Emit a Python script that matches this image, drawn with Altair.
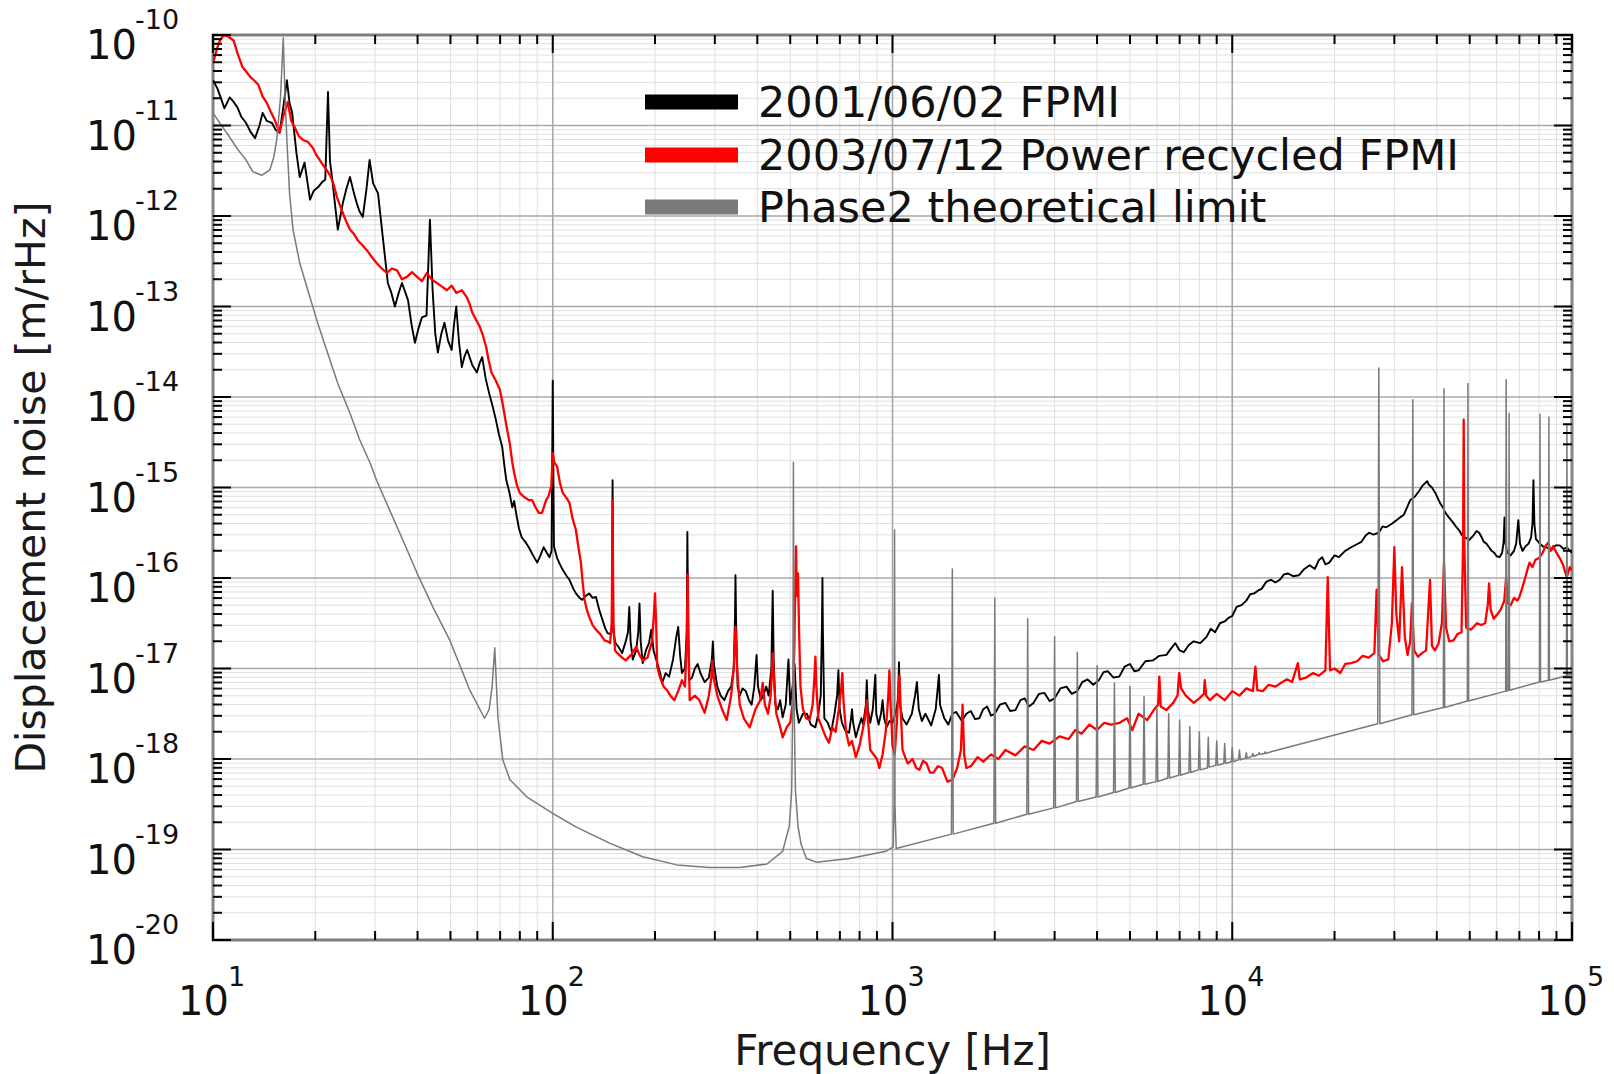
import altair as alt
import numpy as np
import pandas as pd

FONT = "DejaVu Sans"
W, H = 1359, 905

# (frequency [Hz], log10 displacement noise [m/rHz])
black_points = [
    (10, -10.50), (10.3, -10.59), (10.6, -10.72), (10.8, -10.81), (11.2, -10.69), (11.5, -10.74),
    (11.8, -10.80), (12.1, -10.90), (12.5, -10.97), (12.9, -11.07), (13.3, -11.14), (13.7, -11.00),
    (14.0, -10.86), (14.4, -10.95), (14.9, -10.97), (15.3, -11.05), (15.7, -11.08), (16.1, -10.80),
    (16.5, -10.50), (16.8, -10.75), (17.1, -10.86), (17.6, -11.30), (18.0, -11.57), (18.6, -11.41),
    (19.3, -11.82), (19.8, -11.72), (20.4, -11.68), (21.0, -11.62), (21.4, -11.60), (21.8, -10.63),
    (22.1, -11.40), (22.4, -11.57), (23.3, -12.15), (24.1, -11.86), (24.7, -11.70), (25.3, -11.57),
    (26.0, -11.75), (26.5, -11.86), (27.0, -11.95), (27.6, -12.01), (28.3, -11.70), (28.9, -11.38),
    (29.6, -11.64), (30.6, -11.75), (31.6, -12.23), (32.7, -12.74), (33.5, -12.85), (34.3, -13.00),
    (35.2, -12.85), (36.0, -12.74), (37.5, -12.93), (38.4, -13.20), (39.3, -13.40), (40.2, -13.25),
    (41.2, -13.12), (42.5, -13.10), (43.5, -12.04), (44.3, -12.82), (45.1, -13.30), (45.9, -13.51),
    (47.0, -13.30), (48.0, -13.18), (49.2, -13.38), (50.4, -13.48), (51.2, -13.20), (52.0, -13.00),
    (53.0, -13.40), (54.0, -13.67), (55.0, -13.55), (56.0, -13.48), (58.0, -13.65), (59.8, -13.73),
    (61.0, -13.62), (62.0, -13.56), (63.5, -13.80), (65.0, -13.96), (66.5, -14.10), (68.0, -14.25),
    (69.5, -14.42), (71.0, -14.55), (72.0, -14.75), (73.0, -14.92), (74.5, -15.05), (76.0, -15.22),
    (77.0, -15.15), (78.0, -15.28), (79.5, -15.45), (81.0, -15.55), (83.0, -15.60), (85.0, -15.66),
    (87.5, -15.75), (90.0, -15.83), (92.0, -15.75), (94.0, -15.66), (96.0, -15.72), (97.8, -15.77),
    (99.2, -15.70), (100.0, -13.82), (100.8, -15.65), (103, -15.78), (105, -15.85), (107, -15.91),
    (110, -15.98), (112, -16.02), (115, -16.12), (117, -16.17), (120, -16.22), (122, -16.24),
    (125, -16.20), (128, -16.17), (131, -16.22), (134, -16.21), (137, -16.35), (140, -16.46),
    (142.5, -16.55), (145, -16.61), (148, -16.62), (149.2, -16.55), (150.0, -14.92), (150.8, -16.60),
    (153, -16.72), (156, -16.76), (160, -16.83), (164, -16.70), (166.5, -16.60), (168, -16.32),
    (169.5, -16.70), (172, -16.90), (176, -16.80), (178.5, -16.60), (180, -16.28), (181.5, -16.70),
    (184, -16.94), (188, -16.80), (192, -16.72), (195, -16.57), (198, -16.80), (203, -16.94),
    (207, -17.05), (210, -17.16), (215, -17.05), (220, -17.09), (226, -16.90), (231, -16.65),
    (234, -16.54), (237, -16.85), (240, -17.05), (245, -17.00), (248, -16.60), (249, -15.49),
    (250.5, -16.60), (252, -17.13), (257, -17.10), (262, -17.00), (267, -16.95), (272, -17.05),
    (280, -17.15), (288, -17.10), (294, -16.90), (296, -16.70), (298, -16.95), (305, -17.20),
    (312, -17.30), (320, -17.35), (328, -17.25), (335, -17.20), (341, -17.00), (344, -16.40),
    (345, -15.97), (346.5, -16.50), (350, -17.20), (355, -17.30), (362, -17.22), (370, -17.25),
    (378, -17.35), (385, -17.40), (392, -17.20), (398, -16.85), (402, -17.20), (410, -17.35),
    (418, -17.28), (425, -17.20), (432, -17.30), (440, -17.00), (444, -16.14), (447, -16.90),
    (452, -17.40), (460, -17.45), (467, -17.35), (475, -17.54), (485, -17.40), (494, -16.90),
    (500, -17.40), (508, -17.20), (515, -16.95), (522, -17.45), (530, -17.60), (545, -17.50),
    (560, -17.50), (575, -17.62), (593, -17.65), (605, -17.50), (615, -17.30), (620, -16.50),
    (622, -16.00), (624, -16.60), (630, -17.55), (645, -17.60), (660, -17.70), (675, -17.50),
    (687, -17.30), (693, -17.02), (699, -17.45), (710, -17.60), (725, -17.68), (745, -17.71),
    (755, -17.55), (760, -17.45), (766, -17.60), (780, -17.76), (795, -17.65), (810, -17.55),
    (820, -17.62), (835, -17.40), (840, -17.13), (846, -17.45), (860, -17.60), (875, -17.45),
    (885, -17.20), (890, -17.07), (896, -17.50), (910, -17.62), (925, -17.50), (935, -17.35),
    (945, -17.55), (960, -17.65), (980, -17.58), (1000, -17.60), (1020, -17.50), (1038, -17.35),
    (1045, -16.93), (1052, -17.40), (1070, -17.55), (1100, -17.62), (1140, -17.50), (1165, -17.30),
    (1180, -17.15), (1195, -17.45), (1220, -17.58), (1250, -17.50), (1300, -17.63), (1340, -17.45),
    (1360, -17.20), (1370, -17.07), (1380, -17.40), (1420, -17.55), (1460, -17.62), (1500, -17.50),
    (1540, -17.48), (1600, -17.58), (1650, -17.50), (1700, -17.47), (1750, -17.56), (1800, -17.55),
    (1850, -17.45), (1900, -17.42), (1950, -17.52), (2000, -17.50), (2070, -17.40), (2150, -17.38),
    (2220, -17.47), (2300, -17.46), (2380, -17.35), (2450, -17.33), (2520, -17.42), (2600, -17.38),
    (2700, -17.28), (2800, -17.27), (2900, -17.36), (3000, -17.33), (3120, -17.22), (3250, -17.20),
    (3370, -17.28), (3500, -17.25), (3620, -17.15), (3750, -17.12), (3900, -17.18), (4050, -17.13),
    (4180, -17.04), (4300, -17.03), (4470, -17.10), (4650, -17.09), (4820, -16.98), (5000, -16.95),
    (5150, -17.03), (5300, -17.02), (5550, -16.92), (5850, -16.91), (6100, -16.86), (6400, -16.85),
    (6600, -16.78), (6800, -16.72), (7000, -16.80), (7200, -16.82), (7450, -16.74), (7700, -16.70),
    (8050, -16.72), (8400, -16.65), (8650, -16.56), (8900, -16.60), (9200, -16.50), (9500, -16.48),
    (9750, -16.44), (10000, -16.42), (10300, -16.32), (10650, -16.30), (11000, -16.25), (11300, -16.18),
    (11600, -16.17), (11900, -16.14), (12200, -16.12), (12600, -16.04), (13000, -16.02), (13400, -16.05),
    (13800, -16.02), (14200, -15.96), (14600, -15.95), (15100, -15.98), (15700, -15.97), (16300, -15.90),
    (16900, -15.86), (17500, -15.90), (18000, -15.80), (18400, -15.77), (18800, -15.85), (19300, -15.83),
    (20000, -15.75), (20600, -15.77), (21500, -15.70), (22400, -15.66), (23200, -15.63), (24000, -15.60),
    (24700, -15.53), (25300, -15.50), (26000, -15.52), (27000, -15.50), (27700, -15.43), (28400, -15.44),
    (29500, -15.40), (30500, -15.36), (31200, -15.33), (32000, -15.30), (32700, -15.22), (33400, -15.14),
    (34500, -15.10), (35600, -15.03), (36300, -14.98), (37000, -14.95), (37500, -14.93), (37900, -14.97),
    (38700, -15.00), (39600, -15.06), (40300, -15.12), (41000, -15.18), (41700, -15.22), (42400, -15.28),
    (43400, -15.33), (44500, -15.38), (45500, -15.43), (46500, -15.47), (47300, -15.52), (48000, -15.55),
    (48900, -15.56), (49800, -15.58), (50700, -15.55), (51500, -15.52), (52400, -15.48), (53300, -15.50),
    (54200, -15.55), (55000, -15.60), (56000, -15.62), (57000, -15.66), (58000, -15.70), (59000, -15.72),
    (60000, -15.76), (61200, -15.77), (62300, -15.72), (62900, -15.60), (63300, -15.33), (63700, -15.62),
    (64500, -15.72), (66000, -15.75), (67500, -15.70), (68500, -15.62), (69500, -15.36), (70300, -15.62),
    (71500, -15.70), (73000, -15.65), (74500, -15.62), (75800, -15.55), (76500, -15.40), (77000, -14.92),
    (77500, -15.40), (78300, -15.57), (80000, -15.61), (82000, -15.65), (84000, -15.66), (87000, -15.69),
    (89500, -15.64), (92000, -15.64), (94500, -15.68), (96500, -15.66), (98500, -15.70), (100000, -15.72),
]

red_points = [
    (10, -10.31), (10.3, -10.14), (10.5, -10.05), (10.8, -10.00), (11.1, -10.02), (11.5, -10.06),
    (11.8, -10.20), (12.2, -10.35), (12.5, -10.40), (12.85, -10.46), (13.2, -10.50), (13.6, -10.55),
    (14.0, -10.68), (14.4, -10.75), (14.8, -10.85), (15.2, -10.94), (15.7, -11.08), (16.1, -10.90),
    (16.6, -10.74), (17.0, -10.95), (17.4, -11.02), (17.9, -11.12), (18.4, -11.16), (19.0, -11.18),
    (19.7, -11.25), (20.1, -11.32), (20.6, -11.38), (21.1, -11.44), (21.6, -11.49), (22.1, -11.55),
    (22.6, -11.64), (23.2, -11.80), (23.9, -11.93), (24.6, -12.05), (25.3, -12.15), (26.0, -12.20),
    (26.7, -12.27), (27.5, -12.32), (28.4, -12.38), (29.3, -12.45), (30.3, -12.52), (31.4, -12.58),
    (32.5, -12.63), (33.6, -12.58), (34.8, -12.60), (36.0, -12.70), (37.3, -12.67), (38.5, -12.62),
    (39.8, -12.67), (41.2, -12.72), (42.6, -12.63), (44.0, -12.70), (45.6, -12.74), (47.2, -12.78),
    (48.8, -12.82), (50.4, -12.77), (52.0, -12.85), (54.0, -12.82), (55.9, -12.90), (57.0, -12.98),
    (58.0, -13.07), (59.5, -13.15), (60.9, -13.22), (62.3, -13.32), (63.7, -13.45), (64.8, -13.60),
    (66.0, -13.73), (68.0, -13.82), (69.9, -13.92), (71.0, -14.05), (72.0, -14.18), (73.3, -14.35),
    (74.7, -14.51), (76.0, -14.72), (77.0, -14.84), (78.5, -14.98), (80.0, -15.06), (82.0, -15.10),
    (85.0, -15.14), (87.0, -15.14), (89.0, -15.22), (91.0, -15.28), (93.0, -15.28), (95.6, -15.14),
    (97.0, -15.10), (99.0, -14.99), (100.0, -14.62), (101.0, -14.72), (103.0, -14.77), (105.0, -14.95),
    (107.0, -15.06), (110.0, -15.12), (112.0, -15.17), (114.5, -15.35), (117.0, -15.47), (119.0, -15.66),
    (121.0, -15.83), (122.5, -16.05), (124.0, -16.24), (126.0, -16.35), (128.0, -16.43), (131.0, -16.52),
    (134.0, -16.57), (138.0, -16.62), (142.0, -16.69), (145.0, -16.70), (147.5, -16.72), (149.2, -16.50),
    (150.0, -15.14), (150.8, -16.50), (152.5, -16.80), (155.0, -16.83), (160.0, -16.88), (164.0, -16.91),
    (170.0, -16.85), (176.0, -16.76), (180.0, -16.85), (184.0, -16.91), (190.0, -16.88), (196.0, -16.70),
    (198.5, -16.40), (200.0, -16.17), (201.5, -16.50), (203.0, -16.98), (207.0, -17.10), (212.0, -17.20),
    (217.0, -17.24), (222.0, -17.30), (228.0, -17.35), (234.0, -17.25), (240.0, -17.13), (245.0, -17.20),
    (248.0, -16.70), (249.5, -15.96), (251.0, -16.70), (253.0, -17.35), (262.0, -17.30), (270.0, -17.35),
    (280.0, -17.49), (288.0, -17.30), (293.0, -17.10), (295.0, -16.91), (297.5, -17.10), (305.0, -17.30),
    (315.0, -17.45), (325.0, -17.57), (335.0, -17.30), (341.0, -17.00), (345.0, -16.54), (349.0, -17.00),
    (355.0, -17.40), (365.0, -17.55), (380.0, -17.65), (395.0, -17.45), (408.0, -17.35), (415.0, -17.16),
    (421.0, -17.40), (430.0, -17.50), (438.0, -17.30), (444.0, -16.83), (449.0, -17.20), (455.0, -17.50),
    (465.0, -17.62), (475.0, -17.76), (488.0, -17.65), (500.0, -17.60), (508.0, -17.40), (514.0, -16.80),
    (518.0, -16.00), (520.0, -15.65), (523.0, -16.20), (527.0, -15.95), (531.0, -16.60), (536.0, -17.20),
    (545.0, -17.45), (557.0, -17.55), (570.0, -17.57), (582.0, -17.40), (589.0, -17.10), (593.0, -16.87),
    (597.0, -17.20), (605.0, -17.55), (620.0, -17.65), (635.0, -17.75), (650.0, -17.82), (665.0, -17.65),
    (680.0, -17.70), (695.0, -17.45), (707.0, -17.20), (712.0, -17.05), (717.0, -17.35), (730.0, -17.70),
    (745.0, -17.85), (760.0, -17.80), (780.0, -17.98), (800.0, -17.85), (815.0, -17.70), (830.0, -17.55),
    (840.0, -17.35), (848.0, -17.60), (860.0, -17.90), (880.0, -17.95), (900.0, -18.00), (915.0, -18.10),
    (935.0, -17.95), (955.0, -17.70), (972.0, -17.30), (979.0, -17.02), (986.0, -17.35), (1000.0, -17.85),
    (1015.0, -17.95), (1030.0, -17.60), (1040.0, -17.25), (1048.0, -17.08), (1056.0, -17.40), (1070.0, -17.90),
    (1090.0, -17.98), (1110.0, -18.05), (1145.0, -18.00), (1175.0, -18.10), (1200.0, -18.12), (1230.0, -18.02),
    (1260.0, -18.05), (1290.0, -18.15), (1320.0, -18.15), (1360.0, -18.08), (1400.0, -18.10), (1450.0, -18.25),
    (1500.0, -18.23), (1550.0, -18.10), (1590.0, -17.90), (1608.0, -17.40), (1625.0, -17.95), (1650.0, -18.10),
    (1700.0, -18.08), (1780.0, -17.98), (1850.0, -18.03), (1950.0, -17.95), (2050.0, -18.00), (2150.0, -17.90),
    (2300.0, -17.96), (2450.0, -17.86), (2600.0, -17.90), (2750.0, -17.80), (2900.0, -17.83), (3100.0, -17.75),
    (3300.0, -17.78), (3450.0, -17.68), (3600.0, -17.72), (3800.0, -17.62), (4000.0, -17.68), (4200.0, -17.60),
    (4400.0, -17.62), (4660.0, -17.60), (4900.0, -17.55), (5080.0, -17.68), (5300.0, -17.50), (5620.0, -17.57),
    (5900.0, -17.45), (6050.0, -17.40), (6100.0, -17.09), (6160.0, -17.42), (6400.0, -17.46), (6700.0, -17.38),
    (6900.0, -17.30), (6980.0, -17.05), (7070.0, -17.22), (7300.0, -17.30), (7700.0, -17.38), (8000.0, -17.33),
    (8250.0, -17.28), (8300.0, -17.13), (8380.0, -17.30), (8600.0, -17.35), (9000.0, -17.28), (9500.0, -17.35),
    (10000.0, -17.25), (10500.0, -17.30), (11000.0, -17.22), (11500.0, -17.25), (11700.0, -16.98), (11850.0, -17.24),
    (12300.0, -17.25), (12800.0, -17.18), (13400.0, -17.20), (13900.0, -17.16), (14500.0, -17.12), (15000.0, -17.15),
    (15600.0, -16.94), (15800.0, -17.12), (16500.0, -17.10), (17300.0, -17.05), (18000.0, -17.08), (18800.0, -17.02),
    (19100.0, -15.99), (19400.0, -17.02), (20000.0, -17.00), (20800.0, -17.05), (21500.0, -16.95), (22400.0, -16.94),
    (23300.0, -16.92), (24200.0, -16.86), (25200.0, -16.88), (26200.0, -16.83), (26600.0, -16.13), (27000.0, -16.85),
    (27800.0, -16.92), (28800.0, -16.90), (29500.0, -16.50), (30000.0, -15.66), (30400.0, -16.40), (31000.0, -16.70),
    (31600.0, -15.88), (32200.0, -16.65), (32800.0, -16.85), (33400.0, -16.70), (33800.0, -16.28), (34300.0, -16.80),
    (35200.0, -16.87), (36200.0, -16.83), (37200.0, -16.80), (38200.0, -16.02), (38700.0, -16.75), (39500.0, -16.80),
    (40500.0, -16.72), (41400.0, -16.50), (42000.0, -15.83), (42600.0, -16.55), (43500.0, -16.70), (44800.0, -16.69),
    (46000.0, -16.62), (47300.0, -16.60), (47800.0, -15.60), (48000.0, -14.25), (48200.0, -15.60), (48800.0, -16.55),
    (50500.0, -16.57), (52500.0, -16.50), (54000.0, -16.52), (55500.0, -16.50), (56500.0, -16.30), (57000.0, -16.06),
    (57600.0, -16.35), (58800.0, -16.45), (60300.0, -16.40), (61700.0, -16.35), (63200.0, -16.25), (64000.0, -15.99),
    (64800.0, -16.28), (66000.0, -16.30), (67500.0, -16.22), (69000.0, -16.25), (70000.0, -16.21), (71500.0, -16.10),
    (72800.0, -16.00), (74000.0, -15.90), (75000.0, -15.83), (76500.0, -15.88), (78000.0, -15.80), (80000.0, -15.78),
    (82000.0, -15.72), (83500.0, -15.65), (85000.0, -15.61), (86500.0, -15.70), (88000.0, -15.65), (90000.0, -15.72),
    (92000.0, -15.78), (94000.0, -15.85), (96500.0, -15.99), (98500.0, -15.88), (100000.0, -15.92),
]

gray_points = [
    (10, -10.86), (10.5, -10.98), (11.2, -11.13), (11.8, -11.26), (12.5, -11.38), (13.1, -11.51),
    (13.9, -11.55), (14.7, -11.49), (15.1, -11.35), (15.4, -11.16), (15.8, -10.69), (16.1, -10.03),
    (16.3, -10.69), (16.5, -11.16), (16.8, -11.75), (17.2, -12.15), (18.0, -12.52), (19.3, -12.90),
    (20.4, -13.20), (21.6, -13.48), (23.3, -13.85), (25.3, -14.18), (27.0, -14.47), (29.0, -14.73),
    (30.3, -14.92), (33.1, -15.25), (36.2, -15.58), (39.8, -15.94), (44.5, -16.33), (49.8, -16.69),
    (53.5, -16.98), (57.0, -17.24), (61.0, -17.45), (63.0, -17.55), (65.0, -17.45), (66.3, -17.20),
    (67.5, -16.77), (68.3, -17.20), (69.0, -17.55), (69.8, -17.71), (71.3, -18.01), (74.8, -18.23),
    (84.0, -18.42), (100, -18.60), (117, -18.75), (147, -18.93), (184, -19.08), (232, -19.17),
    (289, -19.20), (355, -19.20), (427, -19.16), (475, -19.02), (497, -18.74), (505, -18.35),
    (509, -17.30), (511, -14.72), (513, -17.30), (518, -18.35), (527, -18.74), (538, -18.94),
    (558, -19.10), (597, -19.14), (748, -19.10), (956, -19.02), (1005, -18.97), (1011, -18.50),
    (1014, -15.47), (1017, -18.50), (1025, -18.99),
    (1491, -18.83), (1500, -15.90), (1509, -18.83),
    (1988, -18.71), (2000, -16.22), (2012, -18.71),
    (2485, -18.61), (2500, -16.45), (2515, -18.61),
    (2982, -18.54), (3000, -16.65), (3018, -18.54),
    (3479, -18.47), (3500, -16.82), (3521, -18.47),
    (3976, -18.42), (4000, -16.97), (4024, -18.42),
    (4473, -18.37), (4500, -17.16), (4527, -18.37),
    (4970, -18.32), (5000, -17.20), (5030, -18.32),
    (5467, -18.28), (5500, -17.31), (5533, -18.28),
    (5964, -18.25), (6000, -17.44), (6036, -18.25),
    (6461, -18.21), (6500, -17.50), (6539, -18.21),
    (6958, -18.18), (7000, -17.57), (7042, -18.18),
    (7455, -18.15), (7500, -17.64), (7545, -18.15),
    (7952, -18.12), (8000, -17.70), (8048, -18.12),
    (8449, -18.10), (8500, -17.76), (8551, -18.09),
    (8946, -18.07), (9000, -17.80), (9054, -18.07),
    (9443, -18.05), (9500, -17.83), (9557, -18.05),
    (9940, -18.03), (10000, -17.87), (10060, -18.03),
    (10437, -18.01), (10500, -17.90), (10563, -18.01),
    (10934, -17.99), (11000, -17.93), (11066, -17.99),
    (11431, -17.97), (11500, -17.94), (11569, -17.97),
    (11928, -17.95), (12000, -17.93), (12072, -17.95),
    (12425, -17.94), (12500, -17.92), (12575, -17.94),
    (13000, -17.92),
    (26800, -17.61), (27000, -13.68), (27200, -17.61),
    (33800, -17.51), (34000, -14.03), (34200, -17.51),
    (41800, -17.43), (42000, -13.91), (42200, -17.43),
    (49200, -17.36), (49400, -13.85), (49600, -17.36),
    (63800, -17.25), (64000, -13.81), (64400, -17.25),
    (65100, -17.24), (65300, -14.18), (65500, -17.24),
    (80200, -17.15), (80500, -14.19), (80800, -17.15),
    (85200, -17.13), (85500, -14.22), (85800, -17.13),
    (96300, -17.08), (96600, -14.30), (96900, -17.08),
    (100000, -17.06),
]

series_names = ["2001/06/02 FPMI", "2003/07/12 Power recycled FPMI", "Phase2 theoretical limit"]
series_colors = ["#000000", "#ff0000", "#7a7a7a"]

x_title = "Frequency [Hz]"
y_title = "Displacement noise [m/rHz]"

x_decades = [1, 2, 3, 4, 5]
y_decades = list(range(-20, -9))


def series_df(points):
    f = [p[0] for p in points]
    v = [10.0 ** p[1] for p in points]
    return pd.DataFrame({"freq": f, "noise": v, "idx": np.arange(len(points))})


def tick_df(decades):
    rows = []
    for e in decades[:-1]:
        for m in range(1, 10):
            rows.append({"v": m * 10.0 ** e, "major": m == 1})
    rows.append({"v": 10.0 ** decades[-1], "major": True})
    return pd.DataFrame(rows)


xt = tick_df(x_decades)
yt = tick_df(y_decades)

x_scale = alt.Scale(type="log", domain=[10, 1e5], nice=False)
y_scale = alt.Scale(type="log", domain=[1e-20, 1e-10], nice=False)


def X(field):
    return alt.X(field, scale=x_scale, axis=None)


def Y(field):
    return alt.Y(field, scale=y_scale, axis=None)


layers = []

# grid lines (minor light, major darker)
for major, col, wd in [(False, "#e0e0e0", 1.0), (True, "#a8a8a8", 1.6)]:
    flt = "datum.major" if major else "!datum.major"
    layers.append(alt.Chart(xt).transform_filter(flt).mark_rule(color=col, strokeWidth=wd).encode(
        x=X("v:Q"), y=alt.value(0), y2=alt.value(H)))
    layers.append(alt.Chart(yt).transform_filter(flt).mark_rule(color=col, strokeWidth=wd).encode(
        y=Y("v:Q"), x=alt.value(0), x2=alt.value(W)))

# data
for pts, col, sw in [(black_points, series_colors[0], 1.9),
                     (red_points, series_colors[1], 2.3),
                     (gray_points, series_colors[2], 1.5)]:
    layers.append(alt.Chart(series_df(pts)).mark_line(color=col, strokeWidth=sw, clip=True,
                                                      strokeJoin="round").encode(
        x=X("freq:Q"), y=Y("noise:Q"), order="idx:Q"))

# frame ticks, pointing inward, on all four sides
for major, length in [(True, 18), (False, 9)]:
    flt = "datum.major" if major else "!datum.major"
    ybase = alt.Chart(yt).transform_filter(flt).mark_rule(color="black", strokeWidth=2)
    xbase = alt.Chart(xt).transform_filter(flt).mark_rule(color="black", strokeWidth=2)
    layers.append(ybase.encode(y=Y("v:Q"), x=alt.value(0), x2=alt.value(length)))
    layers.append(ybase.encode(y=Y("v:Q"), x=alt.value(W - length), x2=alt.value(W)))
    layers.append(xbase.encode(x=X("v:Q"), y=alt.value(H - length), y2=alt.value(H)))
    layers.append(xbase.encode(x=X("v:Q"), y=alt.value(0), y2=alt.value(length)))

# tick labels: "10" with a superscript exponent
ylab = pd.DataFrame({"v": [10.0 ** e for e in y_decades], "base": ["10"] * len(y_decades),
                     "exp": [str(e) for e in y_decades]})
xlab = pd.DataFrame({"v": [10.0 ** e for e in x_decades], "base": ["10"] * len(x_decades),
                     "exp": [str(e) for e in x_decades]})

layers.append(alt.Chart(ylab).mark_text(align="right", baseline="alphabetic", dy=24, font=FONT,
                                        fontSize=40, color="#111111").encode(
    y=Y("v:Q"), x=alt.value(-76), text="base:N"))
layers.append(alt.Chart(ylab).mark_text(align="left", baseline="alphabetic", dy=-6, font=FONT,
                                        fontSize=27, color="#111111").encode(
    y=Y("v:Q"), x=alt.value(-78), text="exp:N"))
layers.append(alt.Chart(xlab).mark_text(align="right", baseline="alphabetic", dx=16, font=FONT,
                                        fontSize=40, color="#111111").encode(
    x=X("v:Q"), y=alt.value(H + 75), text="base:N"))
layers.append(alt.Chart(xlab).mark_text(align="left", baseline="alphabetic", dx=15, font=FONT,
                                        fontSize=27, color="#111111").encode(
    x=X("v:Q"), y=alt.value(H + 46), text="exp:N"))

# axis titles
titles = pd.DataFrame({"t": [x_title, y_title]})
layers.append(alt.Chart(titles.iloc[[0]]).mark_text(align="center", baseline="alphabetic", font=FONT,
                                                    fontSize=42, color="#1a1a1a").encode(
    x=alt.value(W / 2), y=alt.value(H + 125), text="t:N"))
layers.append(alt.Chart(titles.iloc[[1]]).mark_text(align="center", baseline="alphabetic", angle=270,
                                                    font=FONT, fontSize=41, color="#1a1a1a").encode(
    x=alt.value(-168), y=alt.value(H / 2), text="t:N"))

# legend
legend_df = pd.DataFrame({"name": series_names})
legend_y = [67, 120, 172]
for i, name in enumerate(series_names):
    one = legend_df.iloc[[i]]
    layers.append(alt.Chart(one).mark_rule(color=series_colors[i], strokeWidth=15).encode(
        x=alt.value(432), x2=alt.value(525), y=alt.value(legend_y[i])))
    layers.append(alt.Chart(one).mark_text(align="left", baseline="middle", font=FONT, fontSize=43,
                                           color="#111111").encode(
        x=alt.value(545), y=alt.value(legend_y[i] + 2), text="name:N"))

chart = alt.layer(*layers).properties(
    width=W, height=H,
    autosize=alt.AutoSizeParams(type="none"),
    padding={"left": 213, "top": 35, "right": 42, "bottom": 134},
    background="white",
).configure_view(stroke="black", strokeWidth=2.5)

chart.save("out.html", embed_options={"renderer": "svg", "actions": False})
